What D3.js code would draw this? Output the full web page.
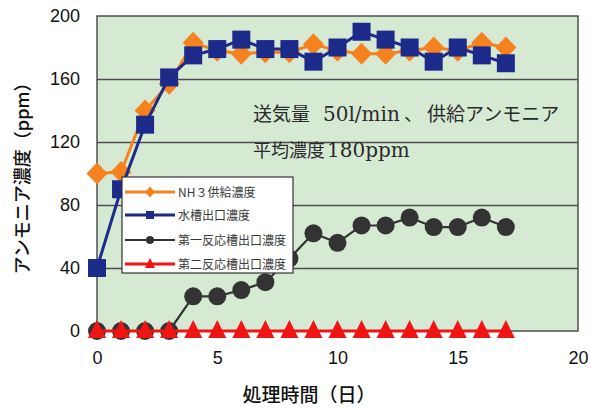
<!DOCTYPE html>
<html><head><meta charset="utf-8">
<script src="https://cdn.jsdelivr.net/npm/d3@7/dist/d3.min.js"></script>
<style>body{margin:0;background:#fff}</style>
</head><body><svg id="c" width="591" height="408"></svg>
<script>
const days = [0,1,2,3,4,5,6,7,8,9,10,11,12,13,14,15,16,17];
const nh3Supply  = [100,101,140,157,183,178,176,177,177,182,178,176,176,178,180,178,183,180];
const tankOutlet = [40,90,131,161,175,179,185,179,179,171,180,190,185,180,171,180,175,170];
const reactor1   = [0,0,0,0,22,22,26,31,46,62,56,67,67,72,66,66,72,66];
const reactor2   = [0,0,0,0,0,0,0,0,0,0,0,0,0,0,0,0,0,0];
const seriesNames = ["NH３供給濃度","水槽出口濃度","第一反応槽出口濃度","第二反応槽出口濃度"];
const xTicks = [0,5,10,15,20];
const yTicks = [0,40,80,120,160,200];
const gridTicks = [40,80,120,160];
const xTitle = "処理時間（日）";
const yTitle = "アンモニア濃度（ppm）";
const note1Parts = ["送気量","50l/min","、","供給アンモニア"];
const note2Parts = ["平均濃度","180ppm"];

const svg = d3.select("#c");
const L=97, R=578, T=16, B=331;
const x = d3.scaleLinear().domain([0,20]).range([L,R]);
const y = d3.scaleLinear().domain([0,200]).range([B,T]);

svg.append("rect").attr("x",L).attr("y",T).attr("width",R-L).attr("height",B-T)
  .attr("fill","#d6ead3");

// grid
svg.append("g").attr("transform",`translate(${L},0)`)
  .call(d3.axisLeft(y).tickValues(gridTicks).tickSize(-(R-L)).tickFormat(""))
  .call(g=>g.select(".domain").remove())
  .call(g=>g.selectAll("line").attr("stroke","#4d4d4d").attr("stroke-width",1.4));

svg.append("rect").attr("x",L).attr("y",T).attr("width",R-L).attr("height",B-T)
  .attr("fill","none").attr("stroke","#444").attr("stroke-width",1.4);

// axes labels
const ya = svg.append("g").attr("transform",`translate(${L},0)`)
  .call(d3.axisLeft(y).tickValues(yTicks).tickSize(0).tickPadding(17));
ya.select(".domain").remove();
ya.selectAll("text").attr("font-family","Liberation Sans, Arial, sans-serif").attr("font-size",18).attr("fill","#111");

const xa = svg.append("g").attr("transform",`translate(0,${B})`)
  .call(d3.axisBottom(x).tickValues(xTicks).tickSize(0).tickPadding(20));
xa.select(".domain").remove();
xa.selectAll("text").attr("font-family","Liberation Sans, Arial, sans-serif").attr("font-size",18).attr("fill","#111");

svg.append("text").attr("x",309).attr("y",402).attr("text-anchor","middle")
  .attr("font-family","Noto Sans CJK JP").attr("font-size",19).attr("font-weight",500).attr("fill","#111").text(xTitle);
svg.append("text").attr("transform","translate(29,174) rotate(-90)").attr("text-anchor","middle")
  .attr("font-family","Noto Sans CJK JP").attr("font-size",18).attr("font-weight",500).attr("fill","#111").text(yTitle);

// markers
const diamond = (w,h)=>`M0,${-h}L${w},0L0,${h}L${-w},0Z`;
const triangle = (w,t,b)=>`M0,${-t}L${w},${b}L${-w},${b}Z`;
const series = [
  {vals:nh3Supply, color:"#f5821f", lw:3, mark:g=>g.append("path").attr("d",diamond(10.5,11)), lm:g=>g.append("path").attr("d",diamond(5,5.5))},
  {vals:tankOutlet, color:"#1c2a8a", lw:3, mark:g=>g.append("rect").attr("x",-9).attr("y",-9).attr("width",18).attr("height",18), lm:g=>g.append("rect").attr("x",-4).attr("y",-4).attr("width",8).attr("height",8)},
  {vals:reactor1, color:"#333333", lw:2.2, mark:g=>g.append("circle").attr("r",9), lm:g=>g.append("circle").attr("r",4)},
  {vals:reactor2, color:"#f01414", lw:3, mark:g=>g.append("path").attr("d",triangle(9,11,7)), lm:g=>g.append("path").attr("d",triangle(5,6,4))}
];
const line = d3.line().x((d,i)=>x(days[i])).y(d=>y(d));
series.forEach(s=>{
  svg.append("path").datum(s.vals).attr("d",line).attr("fill","none")
    .attr("stroke",s.color).attr("stroke-width",s.lw).attr("stroke-linejoin","round");
  s.vals.forEach((v,i)=>{
    const g = svg.append("g").attr("transform",`translate(${x(days[i])},${y(v)})`).attr("fill",s.color);
    s.mark(g);
  });
});

// annotation
const cjk = "Noto Sans CJK JP";
const lat = "DejaVu Serif, Liberation Serif, serif";
const t1 = svg.append("text").attr("y",121).attr("fill","#2a2a2a");
const x1 = [253,323,404,427];
note1Parts.forEach((p,i)=>t1.append("tspan").attr("x",x1[i])
  .attr("font-family",i===1?lat:cjk).attr("font-size",i===1?20:19).text(p));
const t2 = svg.append("text").attr("y",157).attr("fill","#2a2a2a");
const x2 = [253,327];
note2Parts.forEach((p,i)=>t2.append("tspan").attr("x",x2[i])
  .attr("font-family",i===1?lat:cjk).attr("font-size",i===1?20:18).text(p));

// legend
const lg = svg.append("g");
lg.append("rect").attr("x",122).attr("y",177).attr("width",171).attr("height",96)
  .attr("fill","#fff").attr("stroke","#333").attr("stroke-width",1.2);
const ly = [192,215,240,264];
series.forEach((s,i)=>{
  lg.append("line").attr("x1",125).attr("x2",175).attr("y1",ly[i]).attr("y2",ly[i])
    .attr("stroke",s.color).attr("stroke-width",s.lw);
  const g = lg.append("g").attr("transform",`translate(150,${ly[i]})`).attr("fill",s.color);
  s.lm(g);
  lg.append("text").attr("x",178).attr("y",ly[i]+4.5).attr("font-family","Noto Sans CJK JP")
    .attr("font-size",12).attr("fill","#3a3a3a").text(seriesNames[i]);
});
</script></body></html>
